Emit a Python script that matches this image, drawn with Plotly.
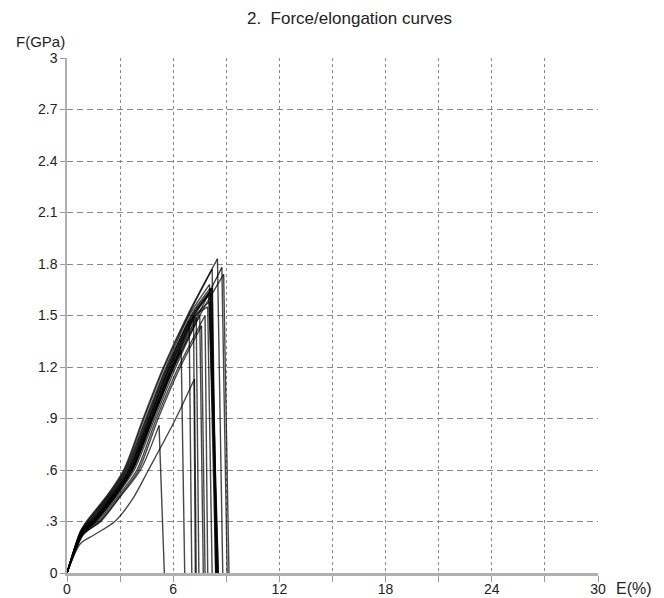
import plotly.graph_objects as go

# Tick values / labels
x_tickvals = [0, 3, 6, 9, 12, 15, 18, 21, 24, 27, 30]
x_ticktext = ["0", "", "6", "", "12", "", "18", "", "24", "", "30"]
y_tickvals = [0, 0.3, 0.6, 0.9, 1.2, 1.5, 1.8, 2.1, 2.4, 2.7, 3.0]
y_ticktext = ["0", ".3", ".6", ".9", "1.2", "1.5", "1.8", "2.1", "2.4", "2.7", "3"]

# Specimen curves: elongation E(%) and force F(GPa).
# Last point of each list is the break (force falls back to 0).
elong_A = [0, 0.75, 1.10, 2.25, 3.20, 4.30, 5.45, 6.80, 8.50, 8.80]
force_A = [0, 0.24, 0.30, 0.45, 0.60, 0.90, 1.20, 1.50, 1.83, 0]
elong_B = [0, 0.75, 1.15, 2.30, 3.25, 4.35, 5.50, 6.85, 8.20, 8.45]
force_B = [0, 0.24, 0.30, 0.45, 0.60, 0.90, 1.20, 1.50, 1.77, 0]
elong_C = [0, 0.85, 1.55, 2.70, 3.70, 4.85, 6.05, 7.40, 8.75, 9.05]
force_C = [0, 0.24, 0.30, 0.45, 0.60, 0.90, 1.20, 1.50, 1.78, 0]
elong_D = [0, 0.90, 1.65, 2.80, 3.80, 4.95, 6.15, 7.50, 8.85, 9.15]
force_D = [0, 0.23, 0.30, 0.45, 0.60, 0.90, 1.20, 1.50, 1.74, 0]
elong_E1 = [0, 0.80, 1.20, 2.35, 3.30, 4.45, 5.60, 6.90, 8.05, 8.45]
force_E1 = [0, 0.24, 0.30, 0.45, 0.60, 0.90, 1.20, 1.50, 1.68, 0]
elong_E2 = [0, 0.80, 1.30, 2.45, 3.40, 4.55, 5.70, 7.00, 8.10, 8.50]
force_E2 = [0, 0.24, 0.30, 0.45, 0.60, 0.90, 1.20, 1.50, 1.66, 0]
elong_E3 = [0, 0.85, 1.35, 2.50, 3.45, 4.60, 5.75, 7.05, 8.15, 8.50]
force_E3 = [0, 0.24, 0.30, 0.45, 0.60, 0.90, 1.20, 1.50, 1.65, 0]
elong_E4 = [0, 0.85, 1.55, 2.70, 3.65, 4.80, 5.95, 7.25, 8.05, 8.40]
force_E4 = [0, 0.24, 0.30, 0.45, 0.60, 0.90, 1.20, 1.50, 1.58, 0]
elong_E5 = [0, 0.90, 1.60, 2.75, 3.70, 4.85, 6.00, 7.30, 7.95, 8.20]
force_E5 = [0, 0.23, 0.30, 0.45, 0.60, 0.90, 1.20, 1.50, 1.55, 0]
elong_E6 = [0, 0.80, 1.25, 2.40, 3.35, 4.50, 5.65, 6.90, 7.05]
force_E6 = [0, 0.24, 0.30, 0.45, 0.60, 0.90, 1.20, 1.47, 0]
elong_E7 = [0, 0.85, 1.40, 2.55, 3.50, 4.65, 5.80, 7.15, 7.25]
force_E7 = [0, 0.24, 0.30, 0.45, 0.60, 0.90, 1.20, 1.50, 0]
elong_E8 = [0, 0.90, 1.50, 2.65, 3.60, 4.75, 5.95, 7.30, 7.45]
force_E8 = [0, 0.23, 0.30, 0.45, 0.60, 0.90, 1.20, 1.49, 0]
elong_E9 = [0, 0.90, 1.60, 2.75, 3.70, 4.85, 6.05, 7.50, 7.70]
force_E9 = [0, 0.23, 0.30, 0.45, 0.60, 0.90, 1.20, 1.50, 0]
elong_E10 = [0, 0.90, 1.75, 2.90, 3.95, 5.05, 6.30, 7.80, 7.95]
force_E10 = [0, 0.23, 0.30, 0.45, 0.60, 0.90, 1.20, 1.50, 0]
elong_E11 = [0, 0.90, 1.85, 3.00, 4.05, 5.15, 6.40, 7.60, 7.80]
force_E11 = [0, 0.22, 0.30, 0.45, 0.60, 0.90, 1.20, 1.44, 0]
elong_E12 = [0, 0.85, 1.50, 2.65, 3.60, 4.75, 5.90, 7.20, 8.20, 8.40]
force_E12 = [0, 0.24, 0.30, 0.45, 0.60, 0.90, 1.20, 1.50, 1.66, 0]
elong_E13 = [0, 0.85, 1.50, 2.65, 3.65, 4.80, 5.95, 6.45, 6.65]
force_E13 = [0, 0.24, 0.30, 0.45, 0.60, 0.90, 1.20, 1.30, 0]
elong_E14 = [0, 0.85, 1.40, 2.55, 3.50, 4.65, 5.80, 7.10, 8.00, 8.55]
force_E14 = [0, 0.24, 0.30, 0.45, 0.60, 0.90, 1.20, 1.50, 1.62, 0]
elong_E15 = [0, 0.85, 1.45, 2.60, 3.55, 4.70, 5.85, 7.15, 8.10, 8.55]
force_E15 = [0, 0.24, 0.30, 0.45, 0.60, 0.90, 1.20, 1.50, 1.63, 0]
elong_F1 = [0, 0.85, 1.90, 3.05, 4.15, 5.20, 5.50]
force_F1 = [0, 0.22, 0.30, 0.45, 0.60, 0.86, 0]
elong_L1 = [0, 0.75, 1.50, 2.70, 3.70, 4.60, 6.10, 7.20, 7.30]
force_L1 = [0, 0.17, 0.22, 0.30, 0.43, 0.60, 0.89, 1.13, 0]

curves = [
    (elong_A, force_A), (elong_B, force_B), (elong_C, force_C), (elong_D, force_D),
    (elong_E1, force_E1), (elong_E2, force_E2), (elong_E3, force_E3), (elong_E4, force_E4),
    (elong_E5, force_E5), (elong_E6, force_E6), (elong_E7, force_E7), (elong_E8, force_E8),
    (elong_E9, force_E9), (elong_E10, force_E10), (elong_E11, force_E11), (elong_E12, force_E12),
    (elong_E13, force_E13), (elong_E14, force_E14), (elong_E15, force_E15),
    (elong_F1, force_F1), (elong_L1, force_L1),
]

line_style = dict(color="rgba(0,0,0,0.72)", width=1.4)

fig = go.Figure()
for ex, fy in curves:
    # loading part (smooth) up to the peak
    fig.add_trace(go.Scatter(x=ex[:-1], y=fy[:-1], mode="lines",
                             line=dict(shape="spline", smoothing=0.8, **line_style),
                             showlegend=False, hoverinfo="skip"))
    # rupture: drop from peak to zero
    fig.add_trace(go.Scatter(x=ex[-2:], y=fy[-2:], mode="lines",
                             line=dict(shape="linear", **line_style),
                             showlegend=False, hoverinfo="skip"))

font_family = "Liberation Sans, Arial, sans-serif"

# the page body adds an 8px offset, so the figure is 8px smaller than the window
fig.update_layout(
    width=656, height=590,
    margin=dict(l=59, r=66, t=50, b=25),
    paper_bgcolor="white", plot_bgcolor="white",
    showlegend=False,
    font=dict(family=font_family, size=14, color="#222"),
    xaxis=dict(range=[0, 30], tickvals=x_tickvals, ticktext=x_ticktext,
               automargin=False,
               showgrid=True, gridcolor="#888", gridwidth=1, griddash="3px,3px",
               zeroline=False, showline=True, linecolor="#b0b0b0", linewidth=3,
               ticks="outside", ticklen=6, tickcolor="#999", tickwidth=1,
               ticklabelstandoff=-5,
               tickfont=dict(size=14, color="#222")),
    yaxis=dict(range=[0, 3], tickvals=y_tickvals, ticktext=y_ticktext,
               automargin=False,
               showgrid=True, gridcolor="#888", gridwidth=1, griddash="6px,4px",
               zeroline=False, showline=True, linecolor="#b0b0b0", linewidth=1.5,
               ticks="outside", ticklen=5, tickcolor="#999", tickwidth=1,
               tickfont=dict(size=14, color="#222")),
    annotations=[
        dict(text="2.  Force/elongation curves", xref="paper", yref="paper",
             x=(349 - 67) / 531, y=(573 - 18) / 515, xanchor="center", yanchor="middle",
             showarrow=False, font=dict(size=17, color="#222")),
        dict(text="F(GPa)", xref="paper", yref="paper",
             x=(40 - 67) / 531, y=(573 - 42) / 515, xanchor="center", yanchor="middle",
             showarrow=False, font=dict(size=15, color="#222")),
        dict(text="E(%)", xref="paper", yref="paper",
             x=(634 - 67) / 531, y=(573 - 588) / 515, xanchor="center", yanchor="middle",
             showarrow=False, font=dict(size=16, color="#222")),
    ],
)

fig.write_html("out.html")
